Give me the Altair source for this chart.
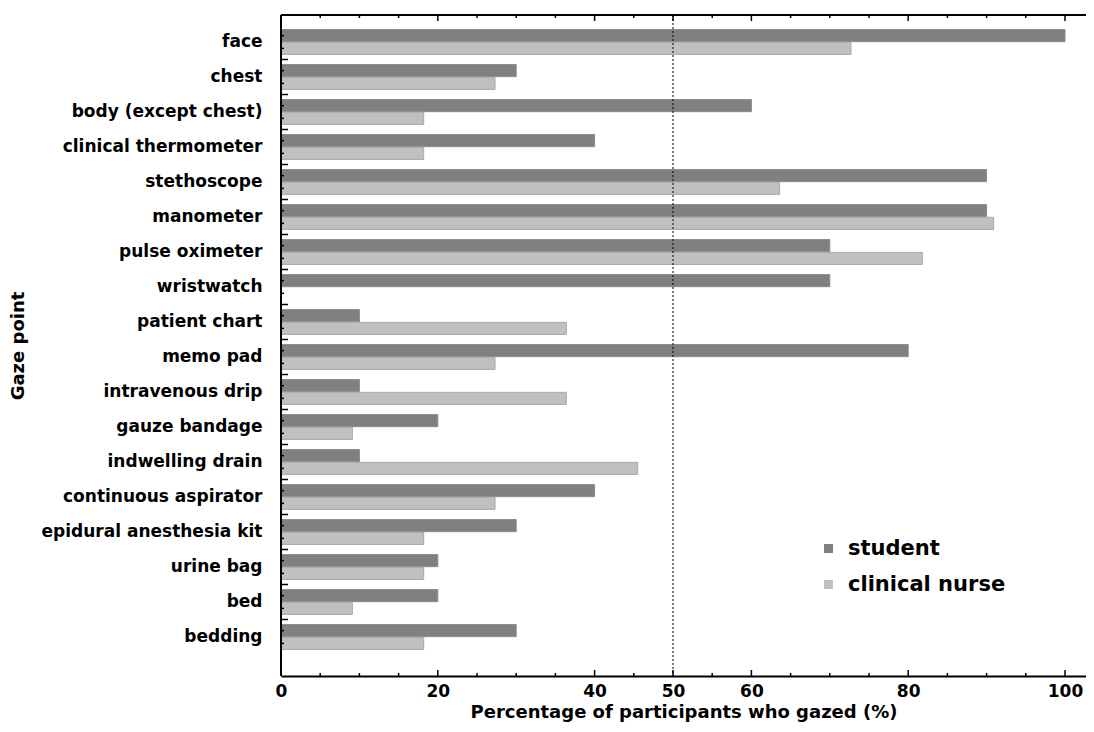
import altair as alt
import pandas as pd

categories = ["face", "chest", "body (except chest)", "clinical thermometer", "stethoscope",
              "manometer", "pulse oximeter", "wristwatch", "patient chart", "memo pad",
              "intravenous drip", "gauze bandage", "indwelling drain", "continuous aspirator",
              "epidural anesthesia kit", "urine bag", "bed", "bedding"]
student = [100, 30, 60, 40, 90, 90, 70, 70, 10, 80, 10, 20, 10, 40, 30, 20, 20, 30]
nurse = [72.7, 27.3, 18.2, 18.2, 63.6, 90.9, 81.8, 0, 36.4, 27.3, 36.4, 9.1, 45.5, 27.3, 18.2, 18.2, 9.1, 18.2]
groups = ["student", "clinical nurse"]
major_ticks = [0, 20, 40, 50, 60, 80, 100]
minor_ticks = [5, 10, 15, 25, 30, 35, 45, 55, 65, 70, 75, 85, 90, 95]
ref_line = [50]

W, H = 805, 661
FONT = "DejaVu Sans"

rows = []
for c, s, n in zip(categories, student, nurse):
    rows.append({"cat": c, "group": "student", "value": s})
    rows.append({"cat": c, "group": "clinical nurse", "value": n})
df = pd.DataFrame(rows)

xs = alt.Scale(domain=[0, 102.68], nice=False, zero=False)
ys = alt.Scale(domain=categories, range=[9.5, 639.5], paddingInner=0, paddingOuter=0)
offs = alt.Scale(domain=groups, paddingInner=0.05, paddingOuter=0.4)

bars = alt.Chart(df).mark_bar(strokeWidth=1).encode(
    x=alt.X("value:Q", scale=xs, axis=alt.Axis(
        values=major_ticks, ticks=False, domain=True, domainWidth=2, domainColor="black",
        grid=False, labelFlush=False, labelFont=FONT, labelFontSize=17, labelFontWeight="bold",
        labelColor="black", labelPadding=7, title="Percentage of participants who gazed (%)",
        titleFont=FONT, titleFontSize=18, titleFontWeight="bold", titleColor="black",
        titlePadding=4)),
    y=alt.Y("cat:N", scale=ys, sort=categories, axis=alt.Axis(
        ticks=False, domain=False, grid=False, labelFont=FONT, labelFontSize=17,
        labelFontWeight="bold", labelColor="black", labelPadding=19, labelLimit=500,
        title="Gaze point", titleFont=FONT, titleFontSize=18, titleFontWeight="bold",
        titleColor="black", titleX=-263, titleY=H / 2, titleAngle=270,
        titleAlign="center", titleBaseline="middle")),
    yOffset=alt.YOffset("group:N", sort=groups, scale=offs),
    color=alt.Color("group:N", sort=groups,
                    scale=alt.Scale(domain=groups, range=["#808080", "#c0c0c0"]),
                    legend=alt.Legend(orient="none", legendX=537, legendY=523, title=None,
                                      symbolType="square", symbolSize=81, symbolStrokeWidth=0,
                                      labelFont=FONT, labelFontSize=21, labelFontWeight="bold",
                                      labelColor="black", labelOffset=9, rowPadding=14)),
    stroke=alt.Stroke("group:N", sort=groups,
                      scale=alt.Scale(domain=groups, range=["#8a8a8a", "#a8a8a8"]), legend=None),
)

# small ticks on left axis at each bar centre
bar_ticks = alt.Chart(df).mark_rule(color="black", strokeWidth=1.5).encode(
    x=alt.value(0), x2=alt.value(3),
    y=alt.Y("cat:N", scale=ys, sort=categories),
    yOffset=alt.YOffset("group:N", sort=groups, scale=offs),
)

cat_df = pd.DataFrame({"cat": categories})
band_ticks = alt.Chart(cat_df).transform_filter(
    alt.datum.cat != categories[0]
).mark_rule(color="black", strokeWidth=1.5).encode(
    x=alt.value(0), x2=alt.value(7),
    y=alt.Y("cat:N", scale=ys, sort=categories, bandPosition=0),
)

maj = pd.DataFrame({"value": major_ticks})
mino = pd.DataFrame({"value": minor_ticks})

def xticks(data, y0, y1):
    return alt.Chart(data).mark_rule(color="black", strokeWidth=1.5).encode(
        x=alt.X("value:Q", scale=xs), y=alt.value(y0), y2=alt.value(y1))

tick_layers = [xticks(maj, H, H - 6), xticks(mino, H, H - 3),
               xticks(maj, 0, 6), xticks(mino, 0, 3)]

one = pd.DataFrame({"a": [0]})
top_line = alt.Chart(one).mark_rule(color="black", strokeWidth=2).encode(
    x=alt.value(0), x2=alt.value(W), y=alt.value(0))
left_line = alt.Chart(one).mark_rule(color="black", strokeWidth=2).encode(
    x=alt.value(0), y=alt.value(0), y2=alt.value(H))

ref = alt.Chart(pd.DataFrame({"value": ref_line})).mark_rule(
    color="black", strokeWidth=1, strokeDash=[2, 2]).encode(
    x=alt.X("value:Q", scale=xs), y=alt.value(0), y2=alt.value(H))

chart = alt.layer(bars, ref, bar_ticks, band_ticks, *tick_layers, top_line, left_line).properties(
    width=W, height=H,
    autosize=alt.AutoSizeParams(type="none"),
    padding={"left": 273, "top": 7, "right": 0, "bottom": 48},
).configure_view(stroke=None).configure(background="white")

chart.save("out.html", embed_options={"renderer": "svg", "actions": False})
